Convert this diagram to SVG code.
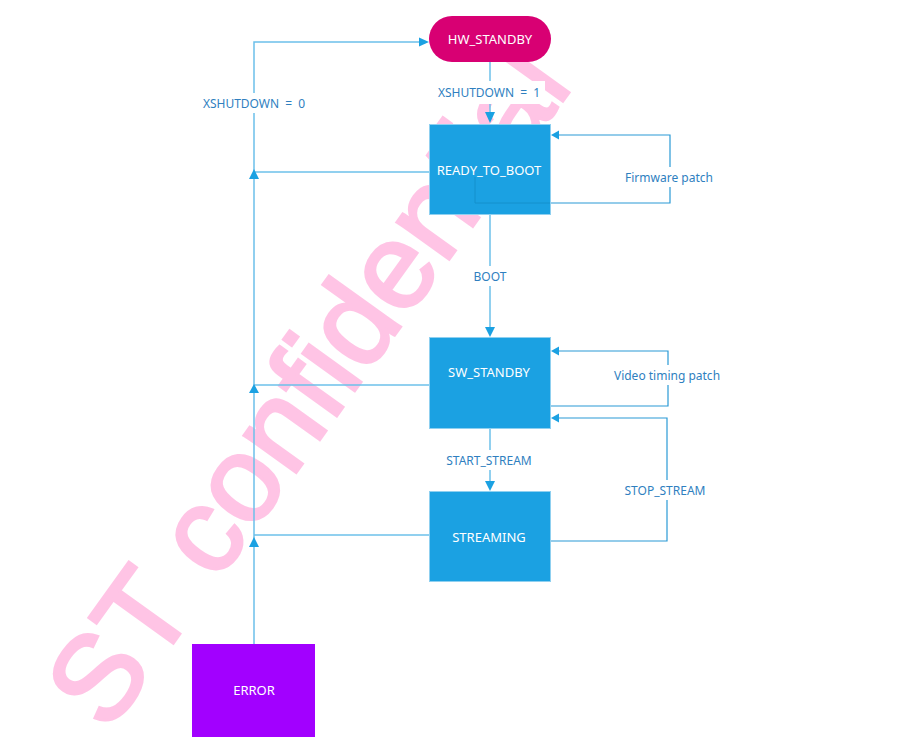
<svg xmlns="http://www.w3.org/2000/svg" width="917" height="751" viewBox="0 0 917 751">
<style>
  .wm{font-family:"Liberation Sans",Arial,sans-serif;font-size:121px;fill:#ffc4e5;stroke:#ffc4e5;stroke-width:3;letter-spacing:0px}
  .node{stroke:#8fd0f0;stroke-width:1}
  .blue{fill:#1ba1e2}
  .nt{font-family:"Noto Sans","Open Sans",sans-serif;font-size:13px;fill:#ffffff;text-anchor:middle;dominant-baseline:central}
  .lbl{font-family:"Noto Sans","Open Sans",sans-serif;font-size:12px;fill:#2f7fbf;text-anchor:middle;dominant-baseline:central}
  .ws{word-spacing:3px}
  .bg{fill:#ffffff}
  .ln{fill:none;stroke:#6cc0ea;stroke-width:1.5}
  .lp{fill:none;stroke:#2a9ad6;stroke-width:1.2}
  .ah{fill:#1ba1e2}
</style>
<rect width="917" height="751" fill="#ffffff"/>
<text class="wm" transform="translate(108,734) rotate(-54.3)">ST confidential</text>

<g id="connectors">
  <path class="ln" d="M254,644 V42 H420"/>
  <polygon class="ah" points="429,42 419,37.5 419,46.5"/>
  <path class="ln" d="M429,172 H254"/>
  <polygon class="ah" points="254,169 249,179 259,179"/>
  <path class="ln" d="M429,385 H254"/>
  <polygon class="ah" points="254,384 249,393 259,393"/>
  <path class="ln" d="M429,535 H254"/>
  <polygon class="ah" points="254,537 249,547 259,547"/>
  <path class="ln" d="M490,62 V114"/>
  <polygon class="ah" points="490,123 485,112 495,112"/>
  <path class="ln" d="M490,214 V328"/>
  <polygon class="ah" points="490,337 485,327 495,327"/>
  <path class="ln" d="M490,429 V482"/>
  <polygon class="ah" points="490,491 485,481 495,481"/>
  <path class="lp" d="M550,203 H670 V135 H558"/>
  <polygon class="ah" points="551,135 559,130.5 559,139.5"/>
  <path class="lp" d="M551,406 H668 V351 H558"/>
  <polygon class="ah" points="551,351 559,346.5 559,355.5"/>
  <path class="lp" d="M551,541 H667 V418 H558"/>
  <polygon class="ah" points="551,418 559,413.5 559,422.5"/>
  <rect class="bg" x="200" y="93" width="108" height="20"/>
  <text class="lbl ws" x="254" y="103">XSHUTDOWN = 0</text>
  <rect class="bg" x="433" y="81" width="112" height="23"/>
  <text class="lbl ws" x="489" y="92">XSHUTDOWN = 1</text>
  <rect class="bg" x="470" y="266" width="40" height="20"/>
  <text class="lbl" x="490" y="276">BOOT</text>
  <rect class="bg" x="441" y="450" width="96" height="20"/>
  <text class="lbl" x="489" y="460">START_STREAM</text>
  <rect class="bg" x="624" y="167" width="90" height="20"/>
  <text class="lbl" x="669" y="177">Firmware patch</text>
  <rect class="bg" x="610" y="365" width="114" height="20"/>
  <text class="lbl" x="667" y="375">Video timing patch</text>
  <rect class="bg" x="620" y="480" width="90" height="20"/>
  <text class="lbl" x="665" y="490">STOP_STREAM</text>
</g>

<g id="hw_standby">
  <rect x="429" y="16" width="122" height="46" rx="23" ry="23" fill="#d80073"/>
  <text class="nt" x="490" y="39">HW_STANDBY</text>
</g>
<g id="ready_to_boot">
  <rect class="node blue" x="429.5" y="124.5" width="121" height="90"/>
  <path d="M475,177 V203 H550" fill="none" stroke="#1590cc" stroke-width="1"/>
  <text class="nt" x="489" y="170">READY_TO_BOOT</text>
</g>
<g id="sw_standby">
  <rect class="node blue" x="429.5" y="337.5" width="121" height="91"/>
  <text class="nt" x="489" y="372">SW_STANDBY</text>
</g>
<g id="streaming">
  <rect class="node blue" x="429.5" y="491.5" width="121" height="90"/>
  <text class="nt" x="489" y="537">STREAMING</text>
</g>
<g id="error">
  <rect x="192" y="644" width="123" height="93" fill="#a200ff"/>
  <text class="nt" x="254" y="690">ERROR</text>
</g>
</svg>
